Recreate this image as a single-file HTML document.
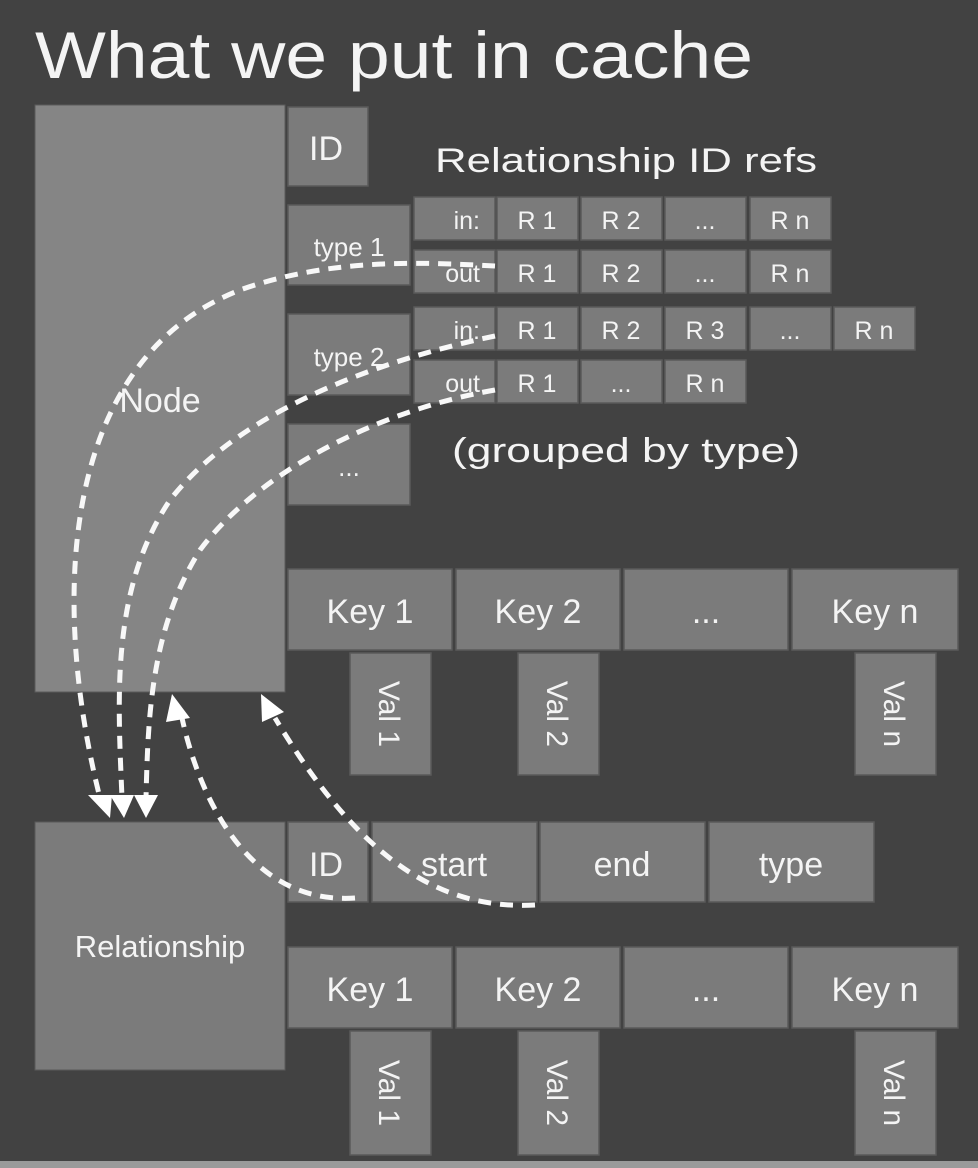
<!DOCTYPE html>
<html><head><meta charset="utf-8"><style>
html,body{margin:0;padding:0;background:#424242;}
svg{display:block;}
text{font-family:"Liberation Sans",sans-serif;fill:#f4f4f4;}
.b{fill:#7b7b7b;stroke:#5a5a5a;stroke-width:1.5;}
.d{fill:none;stroke:#f8f8f8;stroke-width:5;stroke-dasharray:13 9;}
</style></head><body>
<svg width="978" height="1168" viewBox="0 0 978 1168">
<rect x="0" y="0" width="978" height="1168" fill="#424242"/>
<rect x="0" y="1161" width="978" height="7" fill="#9a9a9a"/>
<text x="35" y="78" font-size="66" textLength="718" lengthAdjust="spacingAndGlyphs">What we put in cache</text>

<g><rect x="35" y="105" width="250" height="587" fill="#858585" stroke="#5a5a5a"/><text x="160" y="412" font-size="34" text-anchor="middle">Node</text></g>
<g><rect class="b" x="288" y="107" width="80" height="79"/><text x="326" y="160" font-size="34" text-anchor="middle">ID</text></g>
<text x="435" y="172" font-size="34" textLength="382" lengthAdjust="spacingAndGlyphs">Relationship ID refs</text>

<g><rect class="b" x="288" y="205" width="122" height="80"/><text x="349" y="256" font-size="26" text-anchor="middle">type 1</text></g>
<g><rect class="b" x="288" y="314" width="122" height="81"/><text x="349" y="366" font-size="26" text-anchor="middle">type 2</text></g>
<g><rect class="b" x="288" y="424" width="122" height="81"/><text x="349" y="476" font-size="26" text-anchor="middle">...</text></g>

<g>
<rect class="b" x="414" y="197" width="81" height="43"/><text x="480" y="229" font-size="25" text-anchor="end">in:</text>
<rect class="b" x="497" y="197" width="81" height="43"/><text x="537" y="229" font-size="25" text-anchor="middle">R 1</text>
<rect class="b" x="581" y="197" width="81" height="43"/><text x="621" y="229" font-size="25" text-anchor="middle">R 2</text>
<rect class="b" x="665" y="197" width="81" height="43"/><text x="705" y="229" font-size="25" text-anchor="middle">...</text>
<rect class="b" x="750" y="197" width="81" height="43"/><text x="790" y="229" font-size="25" text-anchor="middle">R n</text>
</g>
<g>
<rect class="b" x="414" y="250" width="81" height="43"/><text x="480" y="282" font-size="25" text-anchor="end">out</text>
<rect class="b" x="497" y="250" width="81" height="43"/><text x="537" y="282" font-size="25" text-anchor="middle">R 1</text>
<rect class="b" x="581" y="250" width="81" height="43"/><text x="621" y="282" font-size="25" text-anchor="middle">R 2</text>
<rect class="b" x="665" y="250" width="81" height="43"/><text x="705" y="282" font-size="25" text-anchor="middle">...</text>
<rect class="b" x="750" y="250" width="81" height="43"/><text x="790" y="282" font-size="25" text-anchor="middle">R n</text>
</g>
<g>
<rect class="b" x="414" y="307" width="81" height="43"/><text x="480" y="339" font-size="25" text-anchor="end">in:</text>
<rect class="b" x="497" y="307" width="81" height="43"/><text x="537" y="339" font-size="25" text-anchor="middle">R 1</text>
<rect class="b" x="581" y="307" width="81" height="43"/><text x="621" y="339" font-size="25" text-anchor="middle">R 2</text>
<rect class="b" x="665" y="307" width="81" height="43"/><text x="705" y="339" font-size="25" text-anchor="middle">R 3</text>
<rect class="b" x="750" y="307" width="81" height="43"/><text x="790" y="339" font-size="25" text-anchor="middle">...</text>
<rect class="b" x="834" y="307" width="81" height="43"/><text x="874" y="339" font-size="25" text-anchor="middle">R n</text>
</g>
<g>
<rect class="b" x="414" y="360" width="81" height="43"/><text x="480" y="392" font-size="25" text-anchor="end">out</text>
<rect class="b" x="497" y="360" width="81" height="43"/><text x="537" y="392" font-size="25" text-anchor="middle">R 1</text>
<rect class="b" x="581" y="360" width="81" height="43"/><text x="621" y="392" font-size="25" text-anchor="middle">...</text>
<rect class="b" x="665" y="360" width="81" height="43"/><text x="705" y="392" font-size="25" text-anchor="middle">R n</text>
</g>
<text x="452" y="462" font-size="34" textLength="348" lengthAdjust="spacingAndGlyphs">(grouped by type)</text>

<g>
<rect class="b" x="288" y="569" width="164" height="81"/><text x="370" y="623" font-size="34" text-anchor="middle">Key 1</text>
<rect class="b" x="456" y="569" width="164" height="81"/><text x="538" y="623" font-size="34" text-anchor="middle">Key 2</text>
<rect class="b" x="624" y="569" width="164" height="81"/><text x="706" y="623" font-size="34" text-anchor="middle">...</text>
<rect class="b" x="792" y="569" width="166" height="81"/><text x="875" y="623" font-size="34" text-anchor="middle">Key n</text>
</g>
<g>
<rect class="b" x="350" y="653" width="81" height="122"/><text transform="translate(379,714) rotate(90)" font-size="30" text-anchor="middle">Val 1</text>
<rect class="b" x="518" y="653" width="81" height="122"/><text transform="translate(547,714) rotate(90)" font-size="30" text-anchor="middle">Val 2</text>
<rect class="b" x="855" y="653" width="81" height="122"/><text transform="translate(884,714) rotate(90)" font-size="30" text-anchor="middle">Val n</text>
</g>

<g><rect x="35" y="822" width="250" height="248" fill="#7b7b7b" stroke="#5a5a5a"/><text x="160" y="957" font-size="31" text-anchor="middle">Relationship</text></g>
<g>
<rect class="b" x="288" y="822" width="80" height="80"/><text x="326" y="876" font-size="34" text-anchor="middle">ID</text>
<rect class="b" x="372" y="822" width="165" height="80"/><text x="454" y="876" font-size="34" text-anchor="middle">start</text>
<rect class="b" x="540" y="822" width="165" height="80"/><text x="622" y="876" font-size="34" text-anchor="middle">end</text>
<rect class="b" x="709" y="822" width="165" height="80"/><text x="791" y="876" font-size="34" text-anchor="middle">type</text>
</g>
<g>
<rect class="b" x="288" y="947" width="164" height="81"/><text x="370" y="1001" font-size="34" text-anchor="middle">Key 1</text>
<rect class="b" x="456" y="947" width="164" height="81"/><text x="538" y="1001" font-size="34" text-anchor="middle">Key 2</text>
<rect class="b" x="624" y="947" width="164" height="81"/><text x="706" y="1001" font-size="34" text-anchor="middle">...</text>
<rect class="b" x="792" y="947" width="166" height="81"/><text x="875" y="1001" font-size="34" text-anchor="middle">Key n</text>
</g>
<g>
<rect class="b" x="350" y="1031" width="81" height="124"/><text transform="translate(379,1093) rotate(90)" font-size="30" text-anchor="middle">Val 1</text>
<rect class="b" x="518" y="1031" width="81" height="124"/><text transform="translate(547,1093) rotate(90)" font-size="30" text-anchor="middle">Val 2</text>
<rect class="b" x="855" y="1031" width="81" height="124"/><text transform="translate(884,1093) rotate(90)" font-size="30" text-anchor="middle">Val n</text>
</g>

<g>
<path class="d" d="M495,266 C420,262 330,258 240,290 C60,360 50,600 100,798"/>
<path class="d" d="M495,336 C380,360 240,410 170,500 C110,590 118,700 122,798"/>
<path class="d" d="M495,390 C380,410 260,470 200,550 C150,630 148,720 146,798"/>
<path class="d" d="M355,898 C250,905 200,800 182,718"/>
<path class="d" d="M535,905 C440,910 360,860 275,718"/>
<polygon points="88,795 112,795 110,818" fill="#fff"/>
<polygon points="110,795 134,795 124,818" fill="#fff"/>
<polygon points="134,795 158,795 146,818" fill="#fff"/>
<polygon points="172,694 190,718 166,722" fill="#fff"/>
<polygon points="261,694 284,712 262,722" fill="#fff"/>
</g>
</svg>
</body></html>
